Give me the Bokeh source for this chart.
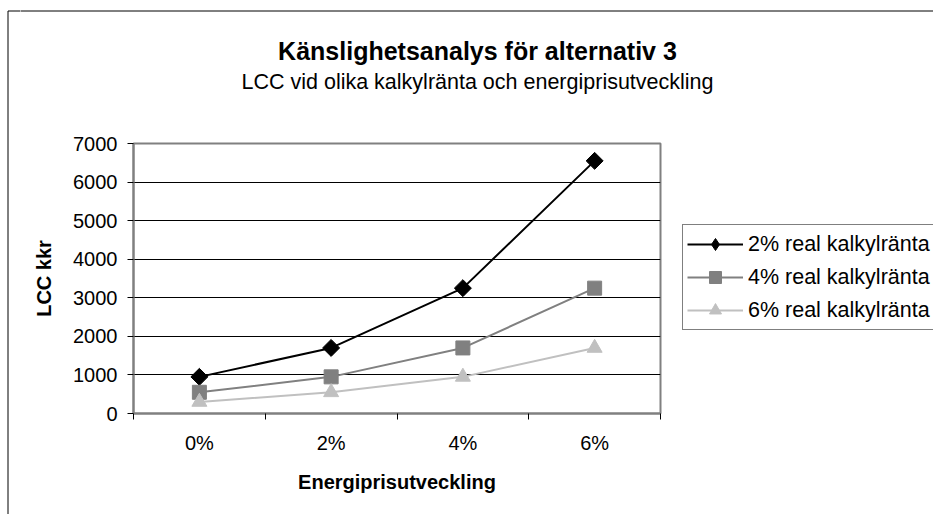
import math
from bokeh.plotting import figure
from bokeh.layouts import column, row
from bokeh.models import Range1d, FixedTicker, Legend, LegendItem
from bokeh.core.properties import value
from bokeh.embed import file_html
from bokeh.resources import INLINE

# ---- data ----
categories = ["0%", "2%", "4%", "6%"]
series_names = ["2% real kalkylränta", "4% real kalkylränta", "6% real kalkylränta"]
lcc_2 = [950, 1700, 3250, 6550]
lcc_4 = [550, 950, 1700, 3250]
lcc_6 = [300, 550, 950, 1700]
y_ticks = [0, 1000, 2000, 3000, 4000, 5000, 6000, 7000]
y_max = 7000

title_text = "Känslighetsanalys för alternativ 3"
subtitle_text = "LCC vid olika kalkylränta och energiprisutveckling"
x_label = "Energiprisutveckling"
y_label = "LCC kkr"

FONT = "Liberation Sans"
W, H = 933, 514
STRIP_W = 20          # narrow strip on the left carrying the chart's left border
TOP_H = 120           # height of the title strip
PL, PR, PT, PB = 133, 660, 143, 413   # plot area (page pixels)
MAIN_R = PR + 2       # right edge of the main chart canvas


def blank(width, height):
    f = figure(width=width, height=height, x_range=Range1d(0, width),
               y_range=Range1d(height, 0), x_axis_type=None, y_axis_type=None,
               min_border=0, output_backend="svg", toolbar_location=None,
               background_fill_color="white", border_fill_color="white",
               frame_align=False)
    f.outline_line_color = None
    f.grid.visible = False
    return f


# ---------------- left strip: chart border ----------------
lf = blank(STRIP_W, H)
lf.segment(x0=[7.5, 7.5], y0=[10.5, 10.5], x1=[7.5, STRIP_W + 2], y1=[H + 2, 10.5],
           line_color="black", line_width=1)

# ---------------- title strip ----------------
tf = blank(W - STRIP_W, TOP_H)
tf.segment(x0=[-2], y0=[10.5], x1=[W - STRIP_W + 2], y1=[10.5],
           line_color="black", line_width=1)
tf.text(x=[477 - STRIP_W], y=[50], text=[title_text], text_font=value(FONT),
        text_font_size="25px", text_font_style="bold", text_color="black",
        text_align="center", text_baseline="alphabetic")
tf.text(x=[477 - STRIP_W], y=[81], text=[subtitle_text], text_font=value(FONT),
        text_font_size="21.5px", text_color="black",
        text_align="center", text_baseline="alphabetic")

# ---------------- main chart ----------------
n = len(categories)
x_pos = [i + 0.5 for i in range(n)]
boundaries = list(range(n + 1))

p = figure(width=MAIN_R - STRIP_W, height=H - TOP_H, output_backend="svg",
           toolbar_location=None, frame_align=False,
           x_range=Range1d(0, n), y_range=Range1d(0, y_max),
           min_border_left=PL - STRIP_W, min_border_right=MAIN_R - PR,
           min_border_top=PT - TOP_H, min_border_bottom=H - PB,
           background_fill_color="white", border_fill_color="white")
p.outline_line_color = "#808080"
p.outline_line_width = 2

p.xgrid.visible = False
p.ygrid.ticker = FixedTicker(ticks=y_ticks)
p.ygrid.grid_line_color = "black"
p.ygrid.grid_line_width = 1

p.yaxis.ticker = FixedTicker(ticks=y_ticks)
p.yaxis.axis_line_color = "#808080"
p.yaxis.axis_line_width = 2
p.yaxis.major_tick_line_color = "black"
p.yaxis.major_tick_out = 6
p.yaxis.major_tick_in = 0
p.yaxis.minor_tick_line_color = None
p.yaxis.major_label_text_font = FONT
p.yaxis.major_label_text_font_size = "20px"
p.yaxis.major_label_text_color = "black"
p.yaxis.major_label_standoff = 10
p.yaxis.axis_label = y_label
p.yaxis.axis_label_text_font = FONT
p.yaxis.axis_label_text_font_size = "20px"
p.yaxis.axis_label_text_font_style = "bold"
p.yaxis.axis_label_text_color = "black"
p.yaxis.axis_label_standoff = 15

p.xaxis.ticker = FixedTicker(ticks=x_pos, minor_ticks=boundaries)
p.xaxis.major_label_overrides = {x: c for x, c in zip(x_pos, categories)}
p.xaxis.axis_line_color = "#808080"
p.xaxis.axis_line_width = 2
p.xaxis.major_tick_line_color = None
p.xaxis.minor_tick_line_color = "black"
p.xaxis.minor_tick_out = 6
p.xaxis.minor_tick_in = 0
p.xaxis.major_label_text_font = FONT
p.xaxis.major_label_text_font_size = "20px"
p.xaxis.major_label_text_color = "black"
p.xaxis.major_label_standoff = 12
p.xaxis.axis_label = x_label
p.xaxis.axis_label_text_font = FONT
p.xaxis.axis_label_text_font_size = "20px"
p.xaxis.axis_label_text_font_style = "bold"
p.xaxis.axis_label_text_color = "black"
p.xaxis.axis_label_standoff = 14

# ---------------- legend panel ----------------
LEG_W = W - MAIN_R
lg = blank(LEG_W, H - TOP_H)

# (values, colour, marker, size, angle, legend marker)
styles = [
    (lcc_2, "black", "square", 12, math.pi / 4, "diamond"),
    (lcc_4, "#808080", "square", 14, 0, "square"),
    (lcc_6, "#C0C0C0", "triangle", 15, 0, "triangle"),
]
items = []
nan = float("nan")
for name, (vals, col, mk, sz, ang, lmk) in zip(series_names, styles):
    p.line(x_pos, vals, line_color=col, line_width=2)
    p.scatter(x_pos, vals, marker=mk, size=sz, angle=ang,
              fill_color=col, line_color=col)
    # legend entries drawn in the legend panel (same styling as the series)
    ln = lg.line(x=[nan], y=[nan], line_color=col, line_width=2)
    mkr = lg.scatter(x=[nan], y=[nan], marker=lmk, size=sz,
                     fill_color=col, line_color=col)
    items.append(LegendItem(label=name, renderers=[ln, mkr]))

legend = Legend(items=items, location=(682 - MAIN_R, H - 330), orientation="vertical")
legend.border_line_color = "black"
legend.border_line_width = 1
legend.background_fill_color = "white"
legend.background_fill_alpha = 1
legend.label_text_font = FONT
legend.label_text_font_size = "21.5px"
legend.label_text_color = "black"
legend.padding = 4
legend.spacing = 3
legend.margin = 0
legend.glyph_width = 56
legend.glyph_height = 30
legend.label_height = 30
legend.label_standoff = 5
lg.add_layout(legend, "center")

layout = row(lf, column(tf, row(p, lg, spacing=0), spacing=0), spacing=0)

open("out.html", "w").write(file_html(layout, INLINE))
